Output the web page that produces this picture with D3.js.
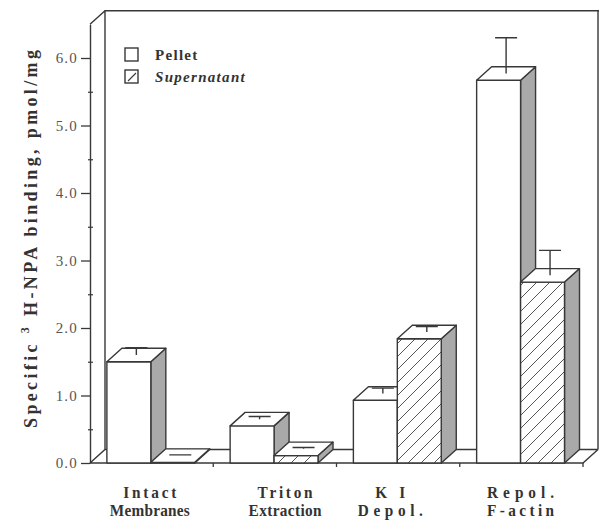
<!DOCTYPE html>
<html><head><meta charset="utf-8">
<script src="https://cdn.jsdelivr.net/npm/d3@7"></script>
<style>body{margin:0;background:#fff} svg{display:block}</style>
</head><body>
<svg id="c" width="599" height="521"></svg>
<script>
// ---- data ----
const categories = ["Intact Membranes","Triton Extraction","KI Depol.","Repol. F-actin"];
const categoryLines = [["Intact","Membranes"],["Triton","Extraction"],["KI","Depol."],["Repol.","F-actin"]];
const series = ["Pellet","Supernatant"];
const pelletValues = [1.50, 0.55, 0.93, 5.67];
const pelletErrors = [0.11, 0.04, 0.08, 0.53];
const supernatantValues = [0.01, 0.11, 1.84, 2.68];
const supernatantErrors = [0.01, 0.02, 0.08, 0.37];
const yTicks = [0,1,2,3,4,5,6];
const yMinorTicks = [0.5,1.5,2.5,3.5,4.5,5.5];
const yMax = 6.5;

// ---- styling (not data) ----
const ink = "#383838";
const font = "'Liberation Serif','Times New Roman',Times,serif";
const labelWidths = {"Intact":53,"Membranes":80,"Triton":55,"Extraction":73,"KI":30,"Depol.":65,"Repol.":67,"F-actin":67};
const labelNudge = [-1, 11, -7, 0];

const svg = d3.select("#c");
const y = d3.scaleLinear().domain([0,yMax]).range([463,24.25]);
const x0 = d3.scaleBand().domain(categories).range([90,583]);
const bw = x0.bandwidth();
const x1 = d3.scaleBand().domain(series).range([bw*0.137, bw*0.85]);
const w = x1.bandwidth();
const DX = 15, DY = -13.5;
const xL0 = x0.range()[0], xR0 = x0.range()[1];
const y0 = y(0), yTop = y(yMax);

const defs = svg.append("defs");
const pat = defs.append("pattern").attr("id","hatch").attr("patternUnits","userSpaceOnUse")
  .attr("width",13).attr("height",13);
pat.append("rect").attr("width",13).attr("height",13).attr("fill","#fff");
pat.append("path").attr("d","M0,13 L13,0 M-1,1 L1,-1 M12,14 L14,12")
  .attr("stroke","#555").attr("stroke-width",1);

// ---- frame (walls & floor) ----
svg.append("path").attr("fill","none").attr("stroke",ink).attr("stroke-width",1.4)
  .attr("d", `M${xL0},${y0} L${xL0+DX},${y0+DY} L${xR0+DX},${y0+DY}` +
             ` M${xL0+DX},${y0+DY} L${xL0+DX},${yTop+DY} L${xR0+DX+2},${yTop+DY}` +
             ` M${xR0+DX},${yTop+DY} L${xR0+DX},${y0+DY}` +
             ` M${xL0},${yTop} L${xL0+DX},${yTop+DY}` +
             ` M${xL0},${y0} L${xR0},${y0} L${xR0+DX},${y0+DY}`);

// x ticks at category boundaries
svg.append("g").selectAll("line").data(categories).join("line")
  .attr("x1", d => x0(d)+bw).attr("x2", d => x0(d)+bw)
  .attr("y1", y0).attr("y2", y0+4).attr("stroke",ink).attr("stroke-width",1.3);

// ---- y axis ----
const gy = svg.append("g").attr("transform",`translate(${xL0},0)`)
  .call(d3.axisLeft(y).tickValues(yTicks).tickFormat(d3.format(".1f")).tickSize(9).tickSizeOuter(0).tickPadding(3));
gy.select(".domain").attr("stroke",ink).attr("stroke-width",1.4);
gy.selectAll(".tick line").attr("stroke",ink).attr("stroke-width",1.3);
gy.selectAll(".tick text").attr("font-family",font).attr("font-size",15).attr("fill","#555")
  .attr("letter-spacing",1.2);
const gm = svg.append("g").attr("transform",`translate(${xL0+3},0)`)
  .call(d3.axisLeft(y).tickValues(yMinorTicks).tickFormat("").tickSize(5).tickSizeOuter(0));
gm.select(".domain").remove();
gm.selectAll(".tick line").attr("stroke",ink).attr("stroke-width",1.2);

// ---- bars ----
const rows = categories.map((c,i) => ({cat:c, items:[
  {s:"Pellet", v:pelletValues[i], e:pelletErrors[i]},
  {s:"Supernatant", v:supernatantValues[i], e:supernatantErrors[i]}]}));
const gb = svg.append("g");
rows.forEach(r => {
  r.items.forEach(it => {
    const xl = x0(r.cat)+x1(it.s), xr = xl + w, yt = y(it.v), yb = y(0);
    const g = gb.append("g").attr("stroke",ink).attr("stroke-width",1.4).attr("stroke-linejoin","round");
    g.append("path").attr("fill", "#a9a9a9")
      .attr("d", `M${xr},${yb} L${xr+DX},${yb+DY} L${xr+DX},${yt+DY} L${xr},${yt} Z`);
    g.append("rect").attr("x",xl).attr("y",yt).attr("width",w).attr("height",Math.max(0,yb-yt))
      .attr("fill", it.s==="Pellet" ? "#fff" : "url(#hatch)");
    g.append("path").attr("fill","#fff")
      .attr("d", `M${xl},${yt} L${xl+DX},${yt+DY} L${xr+DX},${yt+DY} L${xr},${yt} Z`);
    const cx = xl + w/2 + DX/2, cy = yt + DY/2, ye = y(it.v+it.e) + DY/2;
    g.append("path").attr("fill","none").attr("stroke-width",1.4)
      .attr("d", `M${cx},${cy} L${cx},${ye} M${cx-11},${ye} L${cx+11},${ye}`);
  });
});

// ---- category labels ----
const gl = svg.append("g").attr("font-family",font).attr("font-weight","bold").attr("fill","#333")
  .attr("font-size",17).attr("text-anchor","middle");
categories.forEach((c,i) => {
  const cx = x0(c) + x1("Pellet") + w + labelNudge[i];
  categoryLines[i].forEach((t,j) => {
    gl.append("text").attr("transform",`translate(${cx},${498 + j*18}) scale(0.9,1)`)
      .attr("textLength", labelWidths[t]/0.9).attr("lengthAdjust","spacing").text(t);
  });
});

// ---- legend ----
const lg = svg.append("g").attr("font-family",font).attr("font-weight","bold").attr("font-size",15).attr("fill","#333");
series.forEach((s,i) => {
  const yy = 48 + i*22;
  lg.append("rect").attr("x",125).attr("y",yy).attr("width",13).attr("height",13)
    .attr("fill","#fff").attr("stroke",ink).attr("stroke-width",1.4);
  if (s === "Supernatant") {
    lg.append("line").attr("x1",128).attr("y1",yy+11).attr("x2",136).attr("y2",yy+3)
      .attr("stroke",ink).attr("stroke-width",1.1);
  }
  lg.append("text").attr("x",155).attr("y",yy+11.5).attr("letter-spacing",1.3)
    .attr("font-style", s==="Supernatant" ? "italic" : "normal").text(s);
});

// ---- y axis title ----
const yt = svg.append("text").attr("transform","translate(37,239) rotate(-90)")
  .attr("font-family",font).attr("font-weight","bold").attr("font-size",18).attr("fill","#333")
  .attr("text-anchor","middle").attr("textLength",378).attr("lengthAdjust","spacing");
yt.append("tspan").text("Specific  ");
yt.append("tspan").attr("font-size",12).attr("dy",-8).text("3");
yt.append("tspan").attr("dy",8).text("  H-NPA  binding,  pmol/mg");
</script>
</body></html>
